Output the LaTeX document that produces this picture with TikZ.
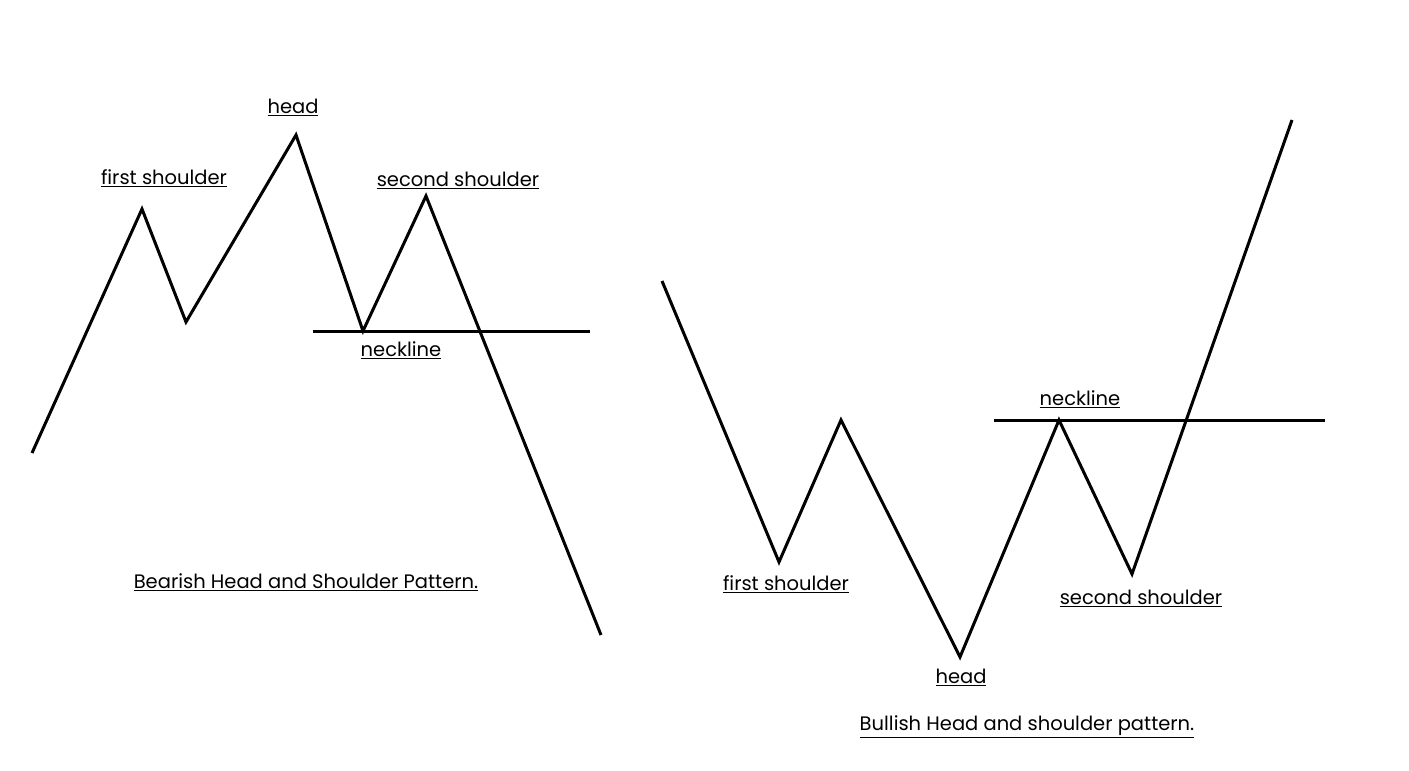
\documentclass[tikz,border=0pt]{standalone}
\usepackage{fontspec}
\setmainfont{Poppins}
\usetikzlibrary{positioning}

\begin{document}
\begin{tikzpicture}[x=1pt,y=-1pt,
  lblstyle/.style={inner sep=0pt,font=\fontsize{19.5}{22}\selectfont},
  pricestyle/.style={line width=3pt,line join=miter}]
  \useasboundingbox (0,0) rectangle (1409,771);

  % bearish pattern
  \foreach \n/\x/\y in {a0/32/453,a1/142/209,a2/186/322,a3/296/135,a4/363/331,a5/426/196,a6/601/635}
    \coordinate (\n) at (\x,\y);
  \coordinate (an1) at (313,331);
  \coordinate (an2) at (590,331);
  \draw [pricestyle] (a0)--(a1)--(a2)--(a3)--(a4)--(a5)--(a6);
  \draw [pricestyle] (an1)--(an2);

  \node [lblstyle] (ahead) at (293,107) {\underline{head}};
  \node [lblstyle] (afirst) at (164,178) {\underline{first shoulder}};
  \node [lblstyle] (asecond) at (458,180) {\underline{second shoulder}};
  \node [lblstyle] (aneck) at (401,350) {\underline{neckline}};
  \node [lblstyle] (atitle) at (306,582) {\underline{Bearish Head and Shoulder Pattern.}};

  % bullish pattern
  \foreach \n/\x/\y in {b0/662/281,b1/779/562,b2/841/420,b3/960/657,b4/1059/420,b5/1132/574,b6/1292/120}
    \coordinate (\n) at (\x,\y);
  \coordinate (bn1) at (994,420);
  \coordinate (bn2) at (1325,420);
  \draw [pricestyle] (b0)--(b1)--(b2)--(b3)--(b4)--(b5)--(b6);
  \draw [pricestyle] (bn1)--(bn2);

  \node [lblstyle] (bneck) at (1080,399) {\underline{neckline}};
  \node [lblstyle] (bfirst) at (786,584) {\underline{first shoulder}};
  \node [lblstyle] (bhead) at (961,677) {\underline{head}};
  \node [lblstyle] (bsecond) at (1141,598) {\underline{second shoulder}};
  \node [lblstyle] (btitle) at (1027,727) {\underline{Bullish Head and shoulder pattern.}};
\end{tikzpicture}
\end{document}
